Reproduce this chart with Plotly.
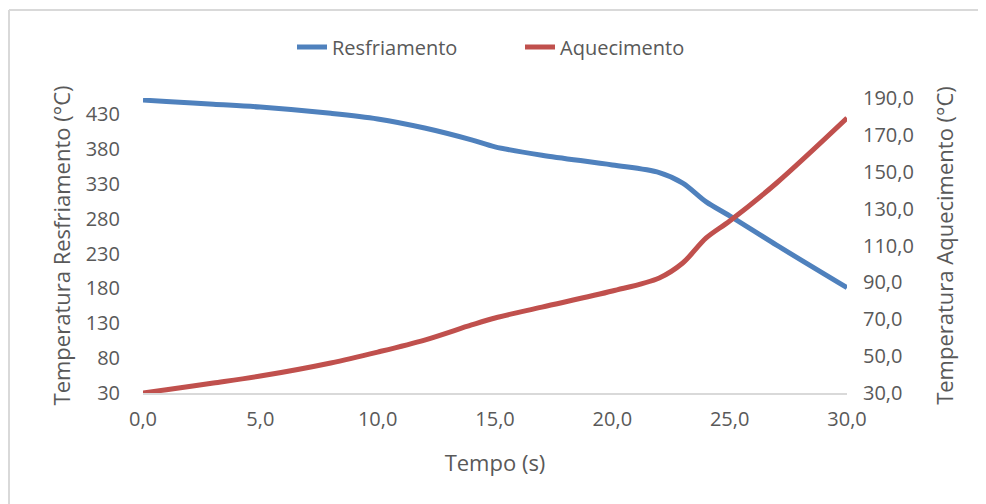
import plotly.graph_objects as go

tempo = [0, 1, 3, 5, 8, 10, 12, 14, 15, 17, 20, 22, 23, 24, 25, 27, 30]
resfriamento = [450, 448, 444, 440, 431, 423, 410, 393, 383, 371, 357, 346, 331, 304, 284, 242, 181]
aquecimento = [30, 31.8, 35.4, 39.2, 46.3, 52.2, 58.7, 66.9, 70.7, 76.6, 85.3, 92.4, 100.5, 114.1, 123.3, 143.9, 179.1]

left_ticks = [30, 80, 130, 180, 230, 280, 330, 380, 430]
right_ticks = [30, 50, 70, 90, 110, 130, 150, 170, 190]
x_ticks = [0, 5, 10, 15, 20, 25, 30]

FONT = "Open Sans"
GREY = "#595959"
W, H = 986, 504
OFF = 8  # page body offset
L, R, T, B = 143 - OFF, W - (847 - OFF), 98 - OFF, H - (393 - OFF)
PW, PH = W - L - R, H - T - B


def px(xp):
    return (xp - OFF - L) / PW


def py(yp):
    return (H - B - (yp - OFF)) / PH


fig = go.Figure()
fig.add_trace(go.Scatter(x=tempo, y=resfriamento, name="Resfriamento", mode="lines",
                         line=dict(color="#4F81BD", width=5, shape="spline", smoothing=0.9),
                         yaxis="y"))
fig.add_trace(go.Scatter(x=tempo, y=aquecimento, name="Aquecimento", mode="lines",
                         line=dict(color="#C0504D", width=5, shape="spline", smoothing=0.9),
                         yaxis="y2"))

fig.update_layout(
    width=W, height=H,
    margin=dict(l=L, r=R, t=T, b=B, autoexpand=False),
    paper_bgcolor="white", plot_bgcolor="white",
    separators=",.",
    font=dict(family=FONT, color=GREY, size=20),
    showlegend=True,
    legend=dict(orientation="h", x=px(520), xanchor="center", y=py(47), yanchor="middle",
                font=dict(size=20, color=GREY), traceorder="normal",
                bgcolor="rgba(0,0,0,0)", entrywidth=183, entrywidthmode="pixels"),
    xaxis=dict(range=[0, 30], tickvals=x_ticks, tickformat=".1f", showgrid=False,
               zeroline=False, showline=True, linecolor="#d9d9d9", linewidth=1.5,
               ticks="", ticklabelstandoff=7, automargin=False,
               tickfont=dict(size=20, color=GREY),
               title=dict(text="Tempo (s)", font=dict(size=22, color=GREY), standoff=25)),
    yaxis=dict(range=[30, 453], tickvals=left_ticks, showgrid=False, zeroline=False,
               showline=False, ticks="", ticklabelstandoff=22, automargin=False,
               tickfont=dict(size=20, color=GREY),
               title=dict(text="Temperatura Resfriamento (°C)", font=dict(size=22, color=GREY),
                          standoff=8)),
    yaxis2=dict(range=[30, 190], tickvals=right_ticks, tickformat=".1f", overlaying="y",
                side="right", showgrid=False, zeroline=False, showline=False, ticks="",
                ticklabelstandoff=15, automargin=False,
                tickfont=dict(size=20, color=GREY),
                title=dict(text="Temperatura Aquecimento (°C)", font=dict(size=22, color=GREY),
                           standoff=24)),
)

# chart border (left and top edges visible in reference)
fig.add_shape(type="line", xref="paper", yref="paper",
              x0=px(9), x1=px(9), y0=py(H + 20), y1=py(10),
              line=dict(color="#d9d9d9", width=2))
fig.add_shape(type="line", xref="paper", yref="paper",
              x0=px(9), x1=px(W + 20), y0=py(10), y1=py(10),
              line=dict(color="#d9d9d9", width=2))

fig.write_html("out.html")
